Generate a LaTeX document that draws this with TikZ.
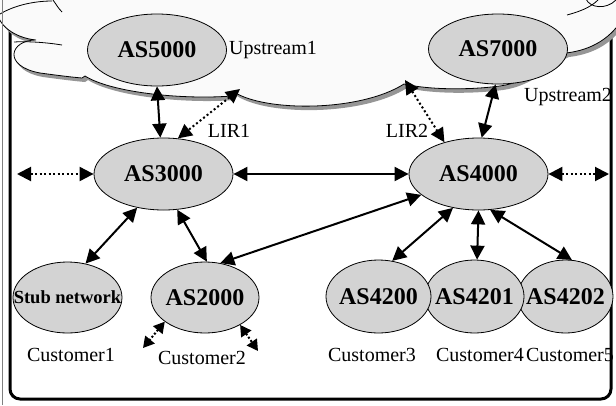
\documentclass[tikz,border=0pt]{standalone}
\usepackage{fontspec}
\setmainfont{Liberation Serif}
\usetikzlibrary{shapes.geometric, arrows.meta, positioning}
\definecolor{asgray}{RGB}{211,211,211}
\definecolor{cloudfill}{RGB}{250,250,250}
\definecolor{cloudshade}{RGB}{150,150,150}
\tikzstyle{asnode} = [
    ellipse,
    draw=black,
    fill=asgray,
    line width=0.8pt,
    inner ysep=0pt,
    inner xsep=-16pt,
    font=\fontsize{24}{28}\selectfont\bfseries
]
\tikzstyle{roletext} = [
    inner sep=1pt,
    font=\fontsize{20}{24}\selectfont
]
\tikzstyle{arrow} = [line width=2pt, {Triangle[length=14pt,width=14pt]}-{Triangle[length=14pt,width=14pt]}]
\tikzstyle{dotarrow} = [arrow, dash pattern=on 2pt off 2.5pt]
\tikzstyle{smallarrow} = [line width=2pt, dash pattern=on 2pt off 2pt, {Triangle[length=11pt,width=12pt]}-{Triangle[length=11pt,width=12pt]}]
\tikzstyle{crease} = [line width=0.8pt]
\newcommand{\cloudshape}[1]{%
  \path[#1] (-20,-30) -- (-20,8) -- (-3,8)
    .. controls (-4,25) and (15,38) .. (36,40)
    .. controls (10,40) and (2,66) .. (40,73)
    .. controls (55,75) and (70,77) .. (82,78)
    -- (85,76)
    .. controls (110,92) and (180,100) .. (232,96)
    -- (234,92)
    .. controls (265,112) and (360,112) .. (404,84)
    .. controls (430,90) and (470,90) .. (500,86)
    .. controls (530,82) and (550,60) .. (566,53)
    .. controls (592,50) and (612,38) .. (625,15)
    -- (625,-30) -- cycle;}

\begin{document}
\begin{tikzpicture}[x=1pt, y=-1pt]
\useasboundingbox (0,0) rectangle (616,405);

\draw [line width=3pt, rounded corners=10pt] (10,-40) rectangle (611,399);

\cloudshape{fill=cloudshade, shift={(3,4)}}
\cloudshape{fill=cloudfill, draw=black, line width=0.8pt}
\draw [crease] (0,14) .. controls (15,5) and (35,1) .. (52,1);
\draw [crease] (53,0) .. controls (56,4) and (58,8) .. (62,12);
\draw [crease] (14,42) .. controls (30,41) and (50,43) .. (62,45);
\draw [crease] (567,15) .. controls (578,12) and (590,8) .. (598,0);
\draw [crease] (586,-1) .. controls (590,8) and (606,10) .. (616,0);

\node (as5000) [asnode, minimum width=139pt, minimum height=72pt] at (157,50) {AS5000};
\node (as7000) [asnode, minimum width=139pt, minimum height=70pt] at (498,49) {AS7000};
\node (as3000) [asnode, minimum width=139pt, minimum height=72pt] at (163.5,174) {AS3000};
\node (as4000) [asnode, minimum width=139pt, minimum height=72pt] at (478.5,174) {AS4000};
\node (stub) [asnode, minimum width=109pt, minimum height=71pt,
    font=\fontsize{18.5}{22}\selectfont\bfseries] at (67.5,297.5) {Stub network};
\node (as2000) [asnode, minimum width=108pt, minimum height=71pt] at (205,297.5) {AS2000};
\node (as4202) [asnode, minimum width=95pt, minimum height=73pt] at (565.5,296.5) {AS4202};
\node (as4201) [asnode, minimum width=99pt, minimum height=73pt] at (474.5,296.5) {AS4201};
\node (as4200) [asnode, minimum width=105pt, minimum height=73pt] at (378.5,296.5) {AS4200};

\coordinate (lir1end) at (240,89);
\coordinate (lir2end) at (405,80);
\coordinate (westend) at (17,174);
\coordinate (eastend) at (609,174);
\coordinate (cust2a) at (143,348);
\coordinate (cust2b) at (258,351);

\draw [arrow] (as5000.-90) -- (as3000.95);
\draw [dotarrow] (lir1end) -- (as3000.68);
\draw [dotarrow] (lir2end) -- (as4000.137);
\draw [arrow] (as7000.-94) -- (as4000.85);
\draw [dotarrow] (westend) -- (as3000.west);
\draw [dotarrow] (as4000.east) -- (eastend);
\draw [arrow] (as3000.east) -- (as4000.west);
\draw [arrow] (as3000.-128) -- (stub.62);
\draw [arrow] (as3000.-69) -- (as2000.87);
\draw [arrow] (as2000.66) -- (as4000.-160);
\draw [arrow] (as4000.-127) -- (as4200.69);
\draw [arrow] (as4000.-90) -- (as4201.86);
\draw [arrow] (as4000.-72) -- (as4202.80);
\draw [smallarrow] (as2000.-149) -- (cust2a);
\draw [smallarrow] (as2000.-38) -- (cust2b);

\node (up1) [roletext, right=1pt of as5000] {Upstream1};
\node (up2) [roletext, anchor=west] at (523,97) {Upstream2};
\node (lir1) [roletext] at (229,131) {LIR1};
\node (lir2) [roletext] at (407,131) {LIR2};
\node (cust1) [roletext, below=14pt of stub, xshift=3.5pt] {Customer1};
\node (cust2) [roletext, below=17pt of as2000, xshift=-3pt] {Customer2};
\node (cust3) [roletext, below=14pt of as4200, xshift=-6.5pt] {Customer3};
\node (cust4) [roletext, below=14pt of as4201, xshift=5.5pt] {Customer4};
\node (cust5) [roletext, below=14pt of as4202, xshift=4.5pt] {Customer5};

\draw [gray, line width=0.6pt] (2,0) -- (2,405);

\end{tikzpicture}
\end{document}
